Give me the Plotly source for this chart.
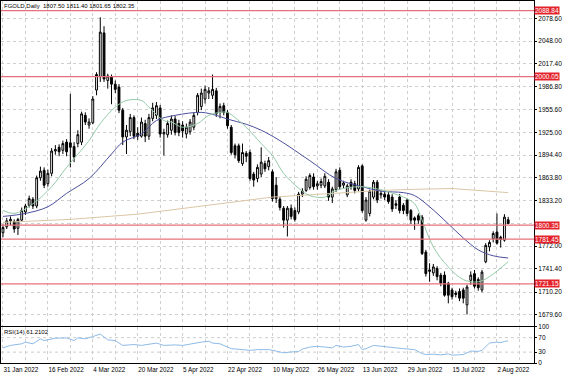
import plotly.graph_objects as go

# ---------------- data ----------------
bar_idx = list(range(136))
opens = [1790,1798,1806,1805,1796,1807,1818,1827,1835,1826,1864,1874,1856,1870,1900,1905,1901,1912,1911,1906,
         1910,1912,1948,1935,1938,1982,2000,2059,1995,2000,1990,1986,1955,1919,1926,1945,1924,1920,1937,1920,
         1944,1948,1958,1923,1922,1928,1943,1937,1935,1923,1926,1932,1952,1960,1970,1978,1975,1981,1952,1961,
         1952,1932,1907,1907,1883,1897,1898,1869,1863,1869,1883,1879,1872,1854,1835,1823,1807,1823,1820,1818,
         1842,1847,1851,1865,1853,1854,1853,1858,1838,1848,1874,1854,1841,1858,1856,1849,1880,1807,1816,1838,
         1858,1841,1842,1841,1838,1829,1838,1827,1834,1820,1810,1813,1811,1764,1738,1736,1742,1733,1733,1722,
         1713,1709,1711,1713,1693,1726,1735,1727,1713,1751,1771,1782,1791,1784,1780,1807.50]
highs = [1801,1810,1812,1808,1810,1824,1829,1840,1838,1867,1879,1878,1875,1904,1908,1909,1914,1916,1977,1912,
         1928,1953,1952,1944,1974,2006,2080,2068,2004,2003,1995,1990,1958,1935,1950,1948,1932,1945,1942,1950,
         1965,1966,1962,1930,1941,1948,1947,1942,1940,1937,1943,1952,1978,1984,1988,1986,2003,1985,1964,1965,
         1955,1935,1910,1910,1910,1900,1902,1872,1882,1905,1887,1892,1875,1865,1838,1826,1826,1828,1824,1845,
         1850,1866,1870,1870,1860,1863,1870,1862,1852,1876,1878,1860,1856,1862,1860,1881,1882,1838,1848,1861,
         1861,1848,1846,1845,1842,1834,1842,1830,1836,1822,1812,1816,1814,1767,1749,1748,1745,1736,1738,1724,
         1716,1712,1715,1716,1720,1738,1740,1730,1740,1776,1780,1792,1816,1786,1815,1811.40]
lows = [1784,1795,1800,1790,1787,1805,1814,1824,1822,1823,1860,1850,1852,1866,1895,1893,1896,1893,1878,1885,
        1905,1908,1935,1930,1936,1975,1993,1993,1984,1963,1978,1951,1908,1896,1920,1916,1915,1918,1912,1915,
        1940,1943,1918,1894,1918,1922,1921,1920,1918,1917,1922,1928,1948,1955,1964,1970,1970,1946,1944,1948,
        1930,1895,1890,1884,1880,1885,1860,1852,1858,1865,1872,1874,1832,1830,1820,1797,1785,1808,1805,1815,
        1838,1845,1848,1848,1848,1850,1850,1833,1830,1845,1848,1850,1838,1848,1843,1846,1817,1805,1812,1835,
        1830,1836,1834,1829,1818,1822,1816,1815,1812,1802,1794,1802,1760,1731,1724,1732,1726,1718,1704,1695,
        1700,1703,1698,1695,1680,1720,1715,1712,1710,1749,1765,1777,1774,1770,1778,1801.65]
closes = [1797,1806,1808,1795,1808,1820,1826,1836,1826,1864,1873,1854,1870,1900,1902,1899,1910,1899,1905,1892,
          1922,1950,1939,1939,1970,2003,2060,1997,2001,1990,1983,1955,1919,1928,1945,1920,1920,1939,1920,1945,
          1958,1961,1923,1925,1937,1943,1925,1925,1927,1932,1939,1948,1975,1978,1983,1981,1983,1950,1960,1952,
          1934,1898,1895,1887,1898,1893,1863,1861,1878,1885,1876,1887,1836,1836,1824,1807,1823,1812,1808,1842,
          1846,1862,1867,1852,1856,1859,1866,1838,1849,1872,1852,1857,1853,1852,1847,1878,1820,1834,1846,1858,
          1834,1843,1838,1832,1822,1827,1820,1820,1816,1807,1807,1807,1762,1735,1740,1744,1731,1722,1706,1706,
          1704,1707,1702,1702,1717,1733,1718,1716,1737,1773,1777,1789,1776,1781,1811,1802.35]

ma_fast_x = [0, 3, 8, 13, 17, 23, 26, 30, 33, 37, 39, 43, 45, 48, 52, 55, 58, 60, 62, 65, 69, 72, 75, 79, 82, 86,
             89, 95, 100, 107, 110, 112, 115, 119, 123, 127, 130, 135]
ma_fast_y = [1820, 1816, 1829, 1852, 1878, 1914, 1937, 1959, 1968, 1968, 1959, 1941, 1939, 1932, 1937, 1948, 1952,
             1952, 1945, 1932, 1910, 1894, 1870, 1850, 1840, 1838, 1847, 1852, 1849, 1838, 1829, 1807, 1771, 1744,
             1727, 1724, 1731, 1751]
ma_mid_x = [0, 6, 12, 17, 23, 29, 32, 37, 41, 46, 53, 57, 60, 65, 69, 74, 82, 89, 96, 101, 107, 110, 114, 119,
            123, 127, 131, 135]
ma_mid_y = [1812, 1816, 1825, 1843, 1863, 1896, 1912, 1923, 1941, 1948, 1952, 1948, 1943, 1936, 1928, 1914, 1887,
            1863, 1852, 1846, 1844, 1840, 1825, 1802, 1783, 1767, 1759, 1756]
ma_slow_x = [0, 18, 36, 54, 72, 90, 101, 110, 120, 135]
ma_slow_y = [1804, 1808, 1815, 1827, 1838, 1843.5, 1847, 1848.5, 1849.5, 1844]

rsi_x = [0, 2, 5, 6, 8, 10, 11, 13, 14, 17, 19, 20, 22, 24, 26, 28, 30, 32, 35, 37, 40, 41, 43, 46, 48, 50, 53,
         55, 56, 58, 61, 64, 66, 68, 71, 73, 75, 77, 79, 80, 82, 84, 86, 88, 89, 91, 93, 95, 96, 97, 99, 101, 103,
         104, 107, 110, 112, 113, 115, 117, 119, 120, 122, 123, 125, 127, 128, 130, 132, 133, 134, 135]
rsi_y = [42, 48.6, 53, 57.6, 53, 66.7, 62, 66.7, 68.5, 69.4, 62, 69.4, 66.7, 73, 80, 64, 62, 48.6, 51, 48.6, 53,
         55, 48.6, 50, 48.6, 53, 57.6, 60, 55, 53, 39.6, 37, 35, 37, 37, 33, 28, 30.6, 31.5, 38.7, 44, 46, 44, 42,
         48.6, 44, 46, 51, 37, 39.6, 48.6, 46, 44, 42, 39.6, 37, 26, 23.4, 24.3, 22.5, 25, 21.6, 23.4, 23.4, 33, 32,
         35, 55, 57.6, 56, 59.4, 61.2102]

grid_idx = list(range(0, 142, 6))
label_idx = list(range(0, 133, 12))
date_labels = ["31 Jan 2022", "16 Feb 2022", "4 Mar 2022", "20 Mar 2022", "5 Apr 2022", "22 Apr 2022",
               "10 May 2022", "26 May 2022", "13 Jun 2022", "29 Jun 2022", "15 Jul 2022", "2 Aug 2022"]
price_ticks = [1679.60, 1710.20, 1741.40, 1772.00, 1802.60, 1833.20, 1863.80, 1894.40, 1925.00, 1955.60,
               1986.80, 2017.40, 2048.00, 2078.60]
price_tick_text = ["1679.60", "1710.20", "1741.40", "1772.00", "", "1833.20", "1863.80", "1894.40", "1925.00",
                   "1955.60", "1986.80", "2017.40", "2048.00", "2078.60"]
levels = [2088.84, 2000.05, 1800.35, 1781.45, 1721.15]
rsi_ticks = [0, 30, 70, 100]
title_text = "FGOLD,Daily  1807.50 1811.40 1801.65 1802.35"
rsi_label = "RSI(14) 61.2102"

# ---------------- figure ----------------
FONT = "Liberation Sans, Arial, sans-serif"
fig = go.Figure()

fig.add_trace(go.Scatter(x=ma_slow_x, y=ma_slow_y, mode="lines", line=dict(color="#dcc6a6", width=1),
                         hoverinfo="skip", showlegend=False, xaxis="x", yaxis="y"))
fig.add_trace(go.Scatter(x=ma_mid_x, y=ma_mid_y, mode="lines", line=dict(color="#4b4f9c", width=1),
                         line_shape="spline", hoverinfo="skip", showlegend=False, xaxis="x", yaxis="y"))
fig.add_trace(go.Scatter(x=ma_fast_x, y=ma_fast_y, mode="lines", line=dict(color="#93c9a6", width=1),
                         line_shape="spline", hoverinfo="skip", showlegend=False, xaxis="x", yaxis="y"))
fig.add_trace(go.Candlestick(
    x=bar_idx, open=opens, high=highs, low=lows, close=closes,
    increasing=dict(line=dict(color="#000000", width=1), fillcolor="#ffffff"),
    decreasing=dict(line=dict(color="#000000", width=1), fillcolor="#000000"),
    whiskerwidth=0, showlegend=False, hoverinfo="skip", xaxis="x", yaxis="y"))

fig.add_trace(go.Scatter(x=rsi_x, y=rsi_y, mode="lines", line=dict(color="#8dbbe6", width=1),
                         hoverinfo="skip", showlegend=False, xaxis="x2", yaxis="y2"))

shapes = []
for lv in levels:
    shapes.append(dict(type="line", xref="x domain", yref="y", x0=0, x1=1, y0=lv, y1=lv,
                       line=dict(color="#e8707a", width=1.3), layer="above"))
for lv in (30, 70):
    shapes.append(dict(type="line", xref="x2 domain", yref="y2", x0=0, x1=1, y0=lv, y1=lv,
                       line=dict(color="#cccccc", width=1, dash="dot"), layer="below"))

annotations = [
    dict(text=title_text, xref="paper", yref="paper", x=0.0, y=1.0, xanchor="left", yanchor="top",
         showarrow=False, font=dict(family=FONT, size=6, color="#000000"), xshift=1, yshift=0),
    dict(text=rsi_label, xref="paper", yref="y2 domain", x=0.0, y=1.0, xanchor="left", yanchor="top",
         showarrow=False, font=dict(family=FONT, size=6, color="#000000"), xshift=1),
]
for lv in levels:
    annotations.append(dict(text=f"{lv:.2f}", xref="x domain", yref="y", x=1.0, y=lv, xanchor="left",
                            yanchor="middle", showarrow=False, bgcolor="#e3222b", borderpad=0,
                            font=dict(family=FONT, size=6.5, color="#ffffff"), xshift=0))

axis_common = dict(showline=True, linecolor="#000000", linewidth=1, mirror=True, zeroline=False,
                   gridcolor="#cfcfcf", griddash="dot", gridwidth=1, automargin=False)

fig.update_layout(
    width=564, height=376, margin=dict(l=1, r=30, t=1, b=13, pad=0),
    paper_bgcolor="#ffffff", plot_bgcolor="#ffffff",
    font=dict(family=FONT, size=6.5, color="#000000"),
    shapes=shapes, annotations=annotations, showlegend=False,
    xaxis=dict(range=[-0.53, 141.9], tickvals=grid_idx, showticklabels=False, showgrid=True,
               rangeslider=dict(visible=False), anchor="y", ticks="", **axis_common),
    yaxis=dict(domain=[0.103, 1.0], range=[1664.9, 2101.9], side="right", tickvals=price_ticks,
               ticktext=price_tick_text, showgrid=True, ticks="outside", ticklen=2,
               tickcolor="#000000", anchor="x", tickfont=dict(size=6.5), **axis_common),
    xaxis2=dict(range=[-0.53, 141.9], tickvals=label_idx, ticktext=date_labels, showgrid=False, anchor="y2",
                matches="x", ticks="", ticklabelposition="outside right", tickfont=dict(size=6.3),
                minor=dict(tickvals=grid_idx, showgrid=True, gridcolor="#cfcfcf", griddash="dot", ticks=""),
                **axis_common),
    yaxis2=dict(domain=[0.0, 0.1], range=[0, 100], side="right", tickvals=rsi_ticks,
                ticktext=[str(v) for v in rsi_ticks], showgrid=False, ticks="outside", ticklen=2,
                tickcolor="#000000", anchor="x2", tickfont=dict(size=6.5), **axis_common),
)

fig.write_html("out.html", config={"displayModeBar": False, "staticPlot": True},
               post_script="document.body.style.margin='0px';")
